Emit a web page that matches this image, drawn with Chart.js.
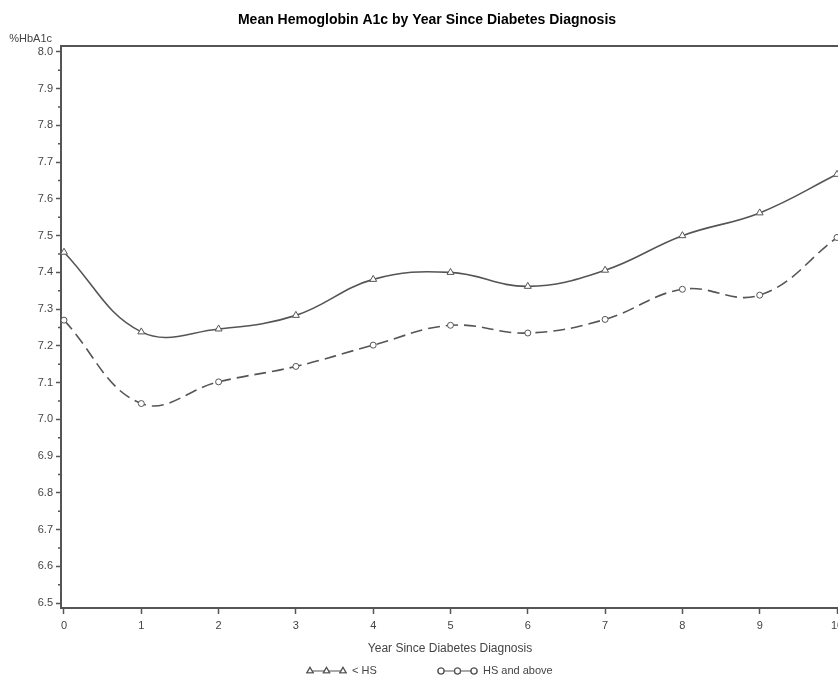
<!DOCTYPE html>
<html>
<head>
<meta charset="utf-8">
<script src="https://cdn.jsdelivr.net/npm/chart.js@4/dist/chart.umd.min.js"></script>
<style>
  html, body { margin: 0; padding: 0; background: #fff; }
  #wrap { width: 838px; height: 676px; position: relative; }
</style>
</head>
<body>
<div id="wrap"><canvas id="chart"></canvas></div>
<script>
// data
const years = [0, 1, 2, 3, 4, 5, 6, 7, 8, 9, 10];
const belowHS = [7.455, 7.238, 7.246, 7.283, 7.381, 7.400, 7.362, 7.406, 7.500, 7.562, 7.667];
const hsAndAbove = [7.270, 7.043, 7.102, 7.144, 7.202, 7.256, 7.235, 7.272, 7.354, 7.338, 7.495];
const yTicks = [6.5, 6.6, 6.7, 6.8, 6.9, 7.0, 7.1, 7.2, 7.3, 7.4, 7.5, 7.6, 7.7, 7.8, 7.9, 8.0];

const titleText = 'Mean Hemoglobin A1c by Year Since Diabetes Diagnosis';
const xTitle = 'Year Since Diabetes Diagnosis';
const yTitle = '%HbA1c';
const lineColor = '#555';
const axisColor = '#555';
const textColor = '#444';
const fontFamily = 'Arial, "Liberation Sans", sans-serif';

const toPoints = vals => vals.map((v, i) => ({ x: years[i], y: v }));

// top frame line, minor ticks, titles and the SAS-style legend
const extras = {
    id: 'extras',
    afterDraw(chart) {
        const { ctx, chartArea: a, scales } = chart;
        ctx.save();
        ctx.strokeStyle = axisColor;
        ctx.lineWidth = 2;
        ctx.beginPath();
        ctx.moveTo(a.left, a.top);
        ctx.lineTo(a.right, a.top);
        ctx.stroke();

        // minor y ticks halfway between labels
        ctx.lineWidth = 1.5;
        ctx.beginPath();
        for (let i = 0; i < yTicks.length - 1; i++) {
            const py = scales.y.getPixelForValue((yTicks[i] + yTicks[i + 1]) / 2);
            ctx.moveTo(a.left - 3, py);
            ctx.lineTo(a.left, py);
        }
        ctx.stroke();

        ctx.fillStyle = '#000';
        ctx.font = `bold 14px ${fontFamily}`;
        ctx.textAlign = 'center';
        ctx.textBaseline = 'middle';
        ctx.fillText(titleText, 427, 20);

        ctx.fillStyle = textColor;
        ctx.font = `12px ${fontFamily}`;
        ctx.fillText(xTitle, 450, 649);

        ctx.font = `11px ${fontFamily}`;
        ctx.textAlign = 'right';
        ctx.fillText(yTitle, 52, 39);

        // legend
        const ly = 671;
        const drawEntry = (x0, style, label) => {
            ctx.strokeStyle = lineColor;
            ctx.lineWidth = 1.2;
            ctx.setLineDash([]);
            ctx.beginPath();
            ctx.moveTo(x0, ly);
            ctx.lineTo(x0 + 33, ly);
            ctx.stroke();
            [0, 16.5, 33].forEach(dx => {
                Chart.helpers.drawPoint(ctx, {
                    pointStyle: style, radius: style === 'triangle' ? 3.5 : 3, rotation: 0, borderWidth: 1
                }, x0 + dx, ly);
                ctx.fillStyle = '#fff';
                ctx.fill();
                ctx.stroke();
            });
            ctx.fillStyle = textColor;
            ctx.font = `11px ${fontFamily}`;
            ctx.textAlign = 'left';
            ctx.fillText(label, x0 + 42, ly);
        };
        drawEntry(310, 'triangle', '< HS');
        drawEntry(441, 'circle', 'HS and above');
        ctx.restore();
    }
};

new Chart(document.getElementById('chart'), {
    type: 'line',
    data: {
        datasets: [
            {
                label: '< HS',
                data: toPoints(belowHS),
                borderColor: lineColor,
                borderWidth: 1.6,
                tension: 0.4,
                pointStyle: 'triangle',
                pointRadius: 4,
                pointBackgroundColor: '#fff',
                pointBorderColor: lineColor,
                pointBorderWidth: 1
            },
            {
                label: 'HS and above',
                data: toPoints(hsAndAbove),
                borderColor: lineColor,
                borderWidth: 1.6,
                borderDash: [12, 6],
                tension: 0.4,
                pointStyle: 'circle',
                pointRadius: 3,
                pointBackgroundColor: '#fff',
                pointBorderColor: lineColor,
                pointBorderWidth: 1
            }
        ]
    },
    options: {
        responsive: true,
        maintainAspectRatio: false,
        animation: false,
        layout: { autoPadding: false, padding: { top: 46, left: 0, right: 0, bottom: 0 } },
        plugins: {
            legend: { display: false },
            title: { display: false },
            tooltip: { enabled: false }
        },
        scales: {
            x: {
                type: 'linear',
                min: -0.0388,
                max: 10.0129,
                grid: { drawOnChartArea: false, tickLength: 6, tickColor: axisColor, tickWidth: 1.5 },
                border: { color: axisColor, width: 2 },
                ticks: {
                    stepSize: 1,
                    includeBounds: false,
                    autoSkip: false,
                    maxRotation: 0,
                    padding: 5,
                    color: textColor,
                    font: { family: fontFamily, size: 11 }
                },
                afterFit(scale) {
                    scale.height = 68;
                    scale.paddingLeft = 0;
                    scale.paddingRight = 0;
                }
            },
            y: {
                min: 6.4864,
                max: 8.0163,
                grid: { drawOnChartArea: false, tickLength: 5, tickColor: axisColor, tickWidth: 1.5 },
                border: { color: axisColor, width: 2 },
                afterBuildTicks(scale) {
                    scale.ticks = yTicks.map(v => ({ value: v }));
                },
                ticks: {
                    padding: 3,
                    color: textColor,
                    font: { family: fontFamily, size: 11 },
                    callback: v => v.toFixed(1)
                },
                afterFit(scale) {
                    scale.width = 61;
                    scale.paddingTop = 0;
                    scale.paddingBottom = 0;
                }
            }
        }
    },
    plugins: [extras]
});
</script>
</body>
</html>
